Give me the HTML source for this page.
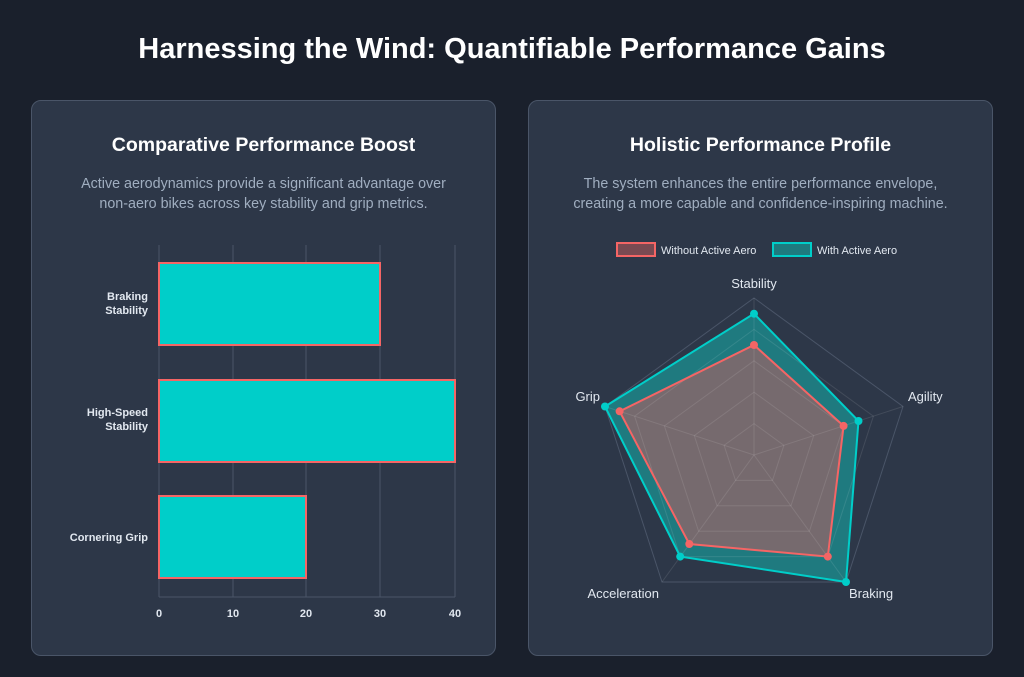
<!DOCTYPE html>
<html><head><meta charset="utf-8"><style>
body{margin:0;width:1024px;height:677px;background:#1a202c;font-family:"Liberation Sans",sans-serif;overflow:hidden;position:relative}
h1{position:absolute;top:33px;left:0;width:1024px;text-align:center;margin:0;font-size:29px;color:#fff;font-weight:bold}
.card{position:absolute;top:100px;width:465px;height:556px;background:#2d3748;border:1px solid #4a5568;border-radius:10px;box-sizing:border-box}
.card h2{position:absolute;top:33px;width:100%;text-align:center;margin:0;font-size:19.5px;color:#fff}
.card p{position:absolute;top:74px;width:100%;text-align:center;margin:0;font-size:14.3px;line-height:19.5px;color:#a0aec0}
svg{position:absolute;left:0;top:0}
</style></head><body>
<h1>Harnessing the Wind: Quantifiable Performance Gains</h1>
<div class="card" style="left:31px"><h2>Comparative Performance Boost</h2><p>Active aerodynamics provide a significant advantage over<br>non-aero bikes across key stability and grip metrics.</p></div>
<div class="card" style="left:528px"><h2>Holistic Performance Profile</h2><p>The system enhances the entire performance envelope,<br>creating a more capable and confidence-inspiring machine.</p></div>
<svg width="1024" height="677" font-family="Liberation Sans, sans-serif">
<g stroke="#4a5568" stroke-width="1">
<line x1="159" y1="245" x2="159" y2="597"/><line x1="233" y1="245" x2="233" y2="597"/><line x1="306" y1="245" x2="306" y2="597"/><line x1="380" y1="245" x2="380" y2="597"/><line x1="455" y1="245" x2="455" y2="597"/>
<line x1="159" y1="597" x2="455" y2="597"/>
</g>
<g fill="#00cec9" stroke="#f56565" stroke-width="2">
<rect x="159" y="263" width="221" height="82"/>
<rect x="159" y="380" width="296" height="82"/>
<rect x="159" y="496" width="147" height="82"/>
</g>
<g fill="#e2e8f0" font-size="11" font-weight="bold" text-anchor="end">
<text x="148" y="300">Braking</text><text x="148" y="314">Stability</text>
<text x="148" y="416">High-Speed</text><text x="148" y="430">Stability</text>
<text x="148" y="541">Cornering Grip</text>
</g>
<g fill="#e2e8f0" font-size="11" font-weight="bold" text-anchor="middle">
<text x="159" y="617">0</text><text x="233" y="617">10</text><text x="306" y="617">20</text><text x="380" y="617">30</text><text x="455" y="617">40</text>
</g>
<rect x="617" y="243" width="38" height="13" fill="#7a4a52" stroke="#f56565" stroke-width="2"/>
<text x="661" y="254" fill="#e2e8f0" font-size="11">Without Active Aero</text>
<rect x="773" y="243" width="38" height="13" fill="#1e7a7e" stroke="#00cec9" stroke-width="2"/>
<text x="817" y="254" fill="#e2e8f0" font-size="11">With Active Aero</text>
<polygon points="754,298 903,406.5 846,582 662,582 605,406.5" fill="none" stroke="#4a5568"/>
<polygon points="754,313.7 858.5,421 846,582 680.2,556.6 605,406.5" fill="#1f7a7f" stroke="none"/>
<polygon points="754,345 843.6,425.9 827.8,556.6 689.3,544 619.6,411.3" fill="#766a6e" stroke="none"/>
<g fill="none" stroke="rgba(255,255,255,0.1)" stroke-width="1">
<polygon points="754,329.4 873.4,416.2 827.8,556.6 680.2,556.6 634.6,416.2"/>
<polygon points="754,360.8 843.6,425.9 809.4,531.2 698.6,531.2 664.4,425.9"/>
<polygon points="754,392.2 813.7,435.6 791,505.8 717,505.8 694.3,435.6"/>
<polygon points="754,423.6 783.9,445.3 772.5,480.4 735.5,480.4 724.1,445.3"/>
<line x1="754" y1="455" x2="754" y2="298"/><line x1="754" y1="455" x2="903" y2="406.5"/><line x1="754" y1="455" x2="846" y2="582"/><line x1="754" y1="455" x2="662" y2="582"/><line x1="754" y1="455" x2="605" y2="406.5"/>
</g>
<polygon points="754,313.7 858.5,421 846,582 680.2,556.6 605,406.5" fill="none" stroke="#00cec9" stroke-width="2"/>
<polygon points="754,345 843.6,425.9 827.8,556.6 689.3,544 619.6,411.3" fill="none" stroke="#f56565" stroke-width="2"/>
<g fill="#00cec9"><circle cx="754" cy="313.7" r="4"/><circle cx="858.5" cy="421" r="4"/><circle cx="846" cy="582" r="4"/><circle cx="680.2" cy="556.6" r="4"/><circle cx="605" cy="406.5" r="4"/></g>
<g fill="#f56565"><circle cx="754" cy="345" r="4"/><circle cx="843.6" cy="425.9" r="4"/><circle cx="827.8" cy="556.6" r="4"/><circle cx="689.3" cy="544" r="4"/><circle cx="619.6" cy="411.3" r="4"/></g>
<g fill="#e2e8f0" font-size="13">
<text x="754" y="288" text-anchor="middle">Stability</text>
<text x="908" y="401">Agility</text>
<text x="849" y="598">Braking</text>
<text x="659" y="598" text-anchor="end">Acceleration</text>
<text x="600" y="401" text-anchor="end">Grip</text>
</g>
</svg>
</body></html>
